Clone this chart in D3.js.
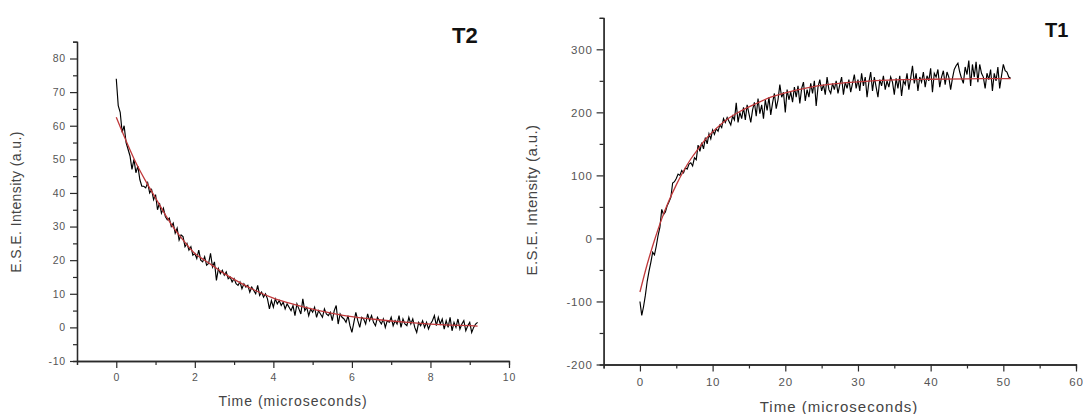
<!DOCTYPE html>
<html>
<head>
<meta charset="utf-8">
<script src="https://cdnjs.cloudflare.com/ajax/libs/d3/7.8.5/d3.min.js"></script>
<style>
    body { margin: 0; background: #fff; }
    svg text { font-family: "Liberation Sans", Arial, sans-serif; }
</style>
</head>
<body>
<div class="chart-container"></div>
<script>
// T2 echo decay, sampled every 0.05 microseconds from t = 0
const t2Step = 0.05;
const t2Signal = [
    74, 66, 64, 58, 60, 55, 53, 51, 47, 50, 46, 48, 44, 42, 42, 41.5, 43, 40, 41, 38,
    39.5, 35, 37, 34, 35.5, 33, 32, 32.5, 30, 31, 28, 29.5, 26, 27.5, 27, 24, 25, 23, 24, 21.5,
    22, 20.5, 23, 20, 19.5, 21, 18.5, 19, 22, 18, 19.5, 14, 17.5, 16, 17, 15.5, 16.5, 14.5, 15, 13.5,
    14.5, 13, 12.5, 13.5, 11.5, 13, 12, 12.5, 10.5, 12, 11, 10, 12.5, 9.5, 10.5, 9, 10, 8.5, 5.5, 8,
    6, 8.5, 7, 8, 6.5, 7.5, 5.5, 7, 6, 5, 6.5, 3.5, 7, 5.5, 4, 8.5, 5, 6, 3.5, 5.5,
    4.5, 6, 3, 5, 4, 3, 5.5, 4, 3.5, 4.5, 2, 5, 6.5, 1, 4, 3, 2.5, 1.5, 3.5, 0.5,
    -1.5, 1.5, 4.5, 2, 0, 3, 2.5, 1, 4, 2, 3.5, 1.5, 0.5, 3, 2, 1, 2.5, 0, 2, 1.5,
    3, 0.5, 2, 1, 3.5, 0, 2.5, 1, 0.5, 3, 1, 2.5, 0, -1.5, 1.5, 0.5, 2, 0, 1.5, -0.5,
    1, 2, 3.5, 0.5, 3, 1, 2.5, -0.5, 2, 0, 3, -1, 1.5, 0, 2.5, -0.5, 1, 2, -1, 0.5,
    1.5, -1.5, 0, 1, 1.5
];
const t2FitTime = [0, 0.25, 0.5, 0.75, 1, 1.25, 1.5, 1.75, 2, 2.25, 2.5, 2.75, 3, 3.5, 4, 4.5, 5, 5.5, 6, 6.5, 7, 7.5, 8, 8.5, 9, 9.2];
const t2FitValue = [62.5, 55.5, 49, 43.5, 38.5, 33.5, 29, 25.3, 22, 20, 18, 16, 14.3, 11.2, 8.7, 6.9, 5.4, 4.2, 3.2, 2.5, 1.9, 1.4, 1.0, 0.7, 0.5, 0.4];
const t2XTicks = [0, 2, 4, 6, 8, 10];
const t2XMinor = [-1, 1, 3, 5, 7, 9];
const t2YTicks = [-10, 0, 10, 20, 30, 40, 50, 60, 70, 80];
const t2YMinor = [-5, 5, 15, 25, 35, 45, 55, 65, 75, 85];

// T1 inversion recovery, sampled every 0.25 microseconds from t = 0
const t1Step = 0.25;
const t1Signal = [
    -100, -122, -108, -90, -68, -52, -38, -22, -26, -12, 5, 18, 46, 38, 42, 52, 58, 65, 88, 90,
    95, 102, 100, 108, 104, 112, 110, 118, 120, 115, 128, 125, 148, 138, 152, 142, 160, 150, 166, 158,
    172, 165, 174, 170, 180, 176, 190, 184, 192, 186, 180, 194, 188, 215, 184, 200, 190, 208, 188, 212,
    198, 184, 204, 216, 194, 222, 198, 212, 190, 220, 203, 224, 196, 215, 230, 206, 220, 244, 224, 232,
    200, 236, 220, 232, 216, 240, 224, 242, 214, 238, 248, 218, 236, 224, 246, 230, 250, 210, 240, 252,
    234, 244, 228, 256, 236, 230, 246, 236, 250, 230, 244, 256, 228, 248, 238, 252, 232, 246, 260, 238,
    252, 234, 262, 242, 256, 224, 248, 264, 234, 256, 240, 224, 252, 242, 258, 236, 250, 240, 256, 248,
    228, 254, 238, 258, 226, 250, 244, 262, 236, 254, 274, 246, 262, 234, 256, 248, 264, 240, 258, 250,
    270, 232, 262, 256, 268, 240, 256, 266, 244, 264, 256, 236, 254, 268, 274, 278, 264, 254, 246, 272,
    260, 282, 242, 276, 256, 280, 248, 276, 262, 256, 238, 262, 252, 268, 234, 262, 250, 272, 238, 258,
    276, 266, 264, 256, 254
];
const t1FitTime = [0, 1, 2, 3, 4, 5, 6, 7, 8, 9, 10, 12, 14, 16, 18, 20, 23, 26, 30, 35, 40, 45, 51];
const t1FitValue = [-85, -41, -3, 31, 60, 85, 107, 126, 142, 157, 169, 189, 203, 214, 224, 231, 239, 244.5, 248.5, 251.5, 252.5, 253.2, 253.6];
const t1XTicks = [0, 10, 20, 30, 40, 50, 60];
const t1XMinor = [-5, 5, 15, 25, 35, 45, 55];
const t1YTicks = [-200, -100, 0, 100, 200, 300];
const t1YMinor = [-150, -50, 50, 150, 250, 350];

const width = 1083,
    height = 414;

const svg = d3.select("div.chart-container")
    .append("svg")
    .attr("width", width)
    .attr("height", height);

function drawPanel(p) {
    const x = d3.scaleLinear().domain(p.xDomain).range([p.left, p.right]),
        y = d3.scaleLinear().domain(p.yDomain).range([p.bottom, p.top]);

    const g = svg.append("g");

    // minor ticks first, then the labelled ones with the axis line
    g.append("g")
        .attr("transform", `translate(0,${p.bottom})`)
        .call(d3.axisBottom(x).tickValues(p.xMinor).tickSize(4).tickFormat(""));
    g.append("g")
        .attr("transform", `translate(${p.left},0)`)
        .call(d3.axisLeft(y).tickValues(p.yMinor).tickSize(4).tickFormat(""));
    g.append("g")
        .attr("class", "x-axis")
        .attr("transform", `translate(0,${p.bottom})`)
        .call(d3.axisBottom(x).tickValues(p.xTicks).tickSize(7).tickSizeOuter(0).tickPadding(6).tickFormat(d => String(d)));
    g.append("g")
        .attr("class", "y-axis")
        .attr("transform", `translate(${p.left},0)`)
        .call(d3.axisLeft(y).tickValues(p.yTicks).tickSize(7).tickSizeOuter(0).tickPadding(4).tickFormat(d => String(d)));

    g.selectAll(".domain").style("stroke", "#2a2a2a").style("stroke-width", 1.3);
    g.selectAll(".tick line").style("stroke", "#2a2a2a").style("stroke-width", 1.2);
    g.selectAll(".tick text")
        .style("fill", "#555")
        .style("font-size", p.tickFont + "px")
        .style("letter-spacing", "0.8px");

    const signal = p.signal.map((v, i) => [i * p.step, v]),
        fit = p.fitTime.map((t, i) => [t, p.fitValue[i]]);

    g.append("path")
        .datum(signal)
        .attr("d", d3.line().x(d => x(d[0])).y(d => y(d[1])))
        .style("fill", "none")
        .style("stroke", "#000")
        .style("stroke-width", 1.15);

    g.append("path")
        .datum(fit)
        .attr("d", d3.line().curve(d3.curveMonotoneX).x(d => x(d[0])).y(d => y(d[1])))
        .style("fill", "none")
        .style("stroke", "#c0393b")
        .style("stroke-width", 1.3);

    g.append("text")
        .attr("x", p.xTitleX)
        .attr("y", p.xTitleY)
        .attr("text-anchor", "middle")
        .style("font-size", p.titleFont + "px")
        .style("letter-spacing", "1px")
        .style("fill", "#444")
        .text("Time (microseconds)");

    g.append("text")
        .attr("transform", `translate(${p.yTitleX},${p.yTitleY}) rotate(-90)`)
        .attr("text-anchor", "middle")
        .style("font-size", p.titleFont + "px")
        .style("letter-spacing", "0.4px")
        .style("fill", "#444")
        .text("E.S.E. Intensity (a.u.)");

    g.append("text")
        .attr("x", p.labelX)
        .attr("y", p.labelY)
        .style("font-size", p.labelFont + "px")
        .style("font-weight", "bold")
        .style("fill", "#111")
        .text(p.label);
}

drawPanel({
    label: "T2", labelX: 452, labelY: 43, labelFont: 22,
    signal: t2Signal, step: t2Step, fitTime: t2FitTime, fitValue: t2FitValue,
    xDomain: [-1, 10], yDomain: [-10, 85],
    left: 77, right: 509, top: 41.7, bottom: 361,
    xTicks: t2XTicks, xMinor: t2XMinor, yTicks: t2YTicks, yMinor: t2YMinor,
    tickFont: 10.5, titleFont: 14,
    xTitleX: 293, xTitleY: 406, yTitleX: 21, yTitleY: 202
});

drawPanel({
    label: "T1", labelX: 1045, labelY: 37, labelFont: 20,
    signal: t1Signal, step: t1Step, fitTime: t1FitTime, fitValue: t1FitValue,
    xDomain: [-5, 60], yDomain: [-200, 350],
    left: 603.6, right: 1076, top: 17.8, bottom: 364.5,
    xTicks: t1XTicks, xMinor: t1XMinor, yTicks: t1YTicks, yMinor: t1YMinor,
    tickFont: 11.5, titleFont: 15,
    xTitleX: 839, xTitleY: 412, yTitleX: 537, yTitleY: 200
});
</script>
</body>
</html>
